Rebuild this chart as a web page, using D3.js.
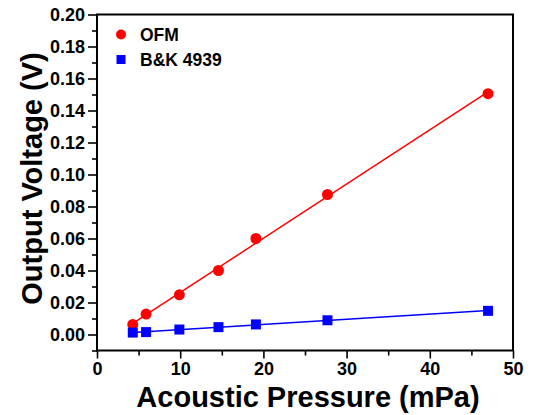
<!DOCTYPE html>
<html>
<head>
<meta charset="utf-8">
<script src="https://cdn.jsdelivr.net/npm/d3@7"></script>
<style>
  body { margin: 0; background: #fff; }
  text { font-family: 'Liberation Sans', Arial, sans-serif; font-weight: bold; }
</style>
</head>
<body>
<div id="chart"></div>
<script>
// data
const pressure = [4.3, 5.9, 9.9, 14.6, 19.1, 27.7, 47.0]
const ofm = [0.0063, 0.0128, 0.0248, 0.0400, 0.0600, 0.0875, 0.1505]
const bk = [0.0012, 0.0015, 0.0031, 0.0046, 0.0063, 0.0089, 0.0148]
const xTicks = [0, 10, 20, 30, 40, 50]
const yTicks = [0, 0.02, 0.04, 0.06, 0.08, 0.10, 0.12, 0.14, 0.16, 0.18, 0.20]

const width = 534
const height = 415
const margin = { top: 14.5, right: 21, bottom: 64.5, left: 97 }
const w = width - margin.left - margin.right
const h = height - margin.top - margin.bottom

const svg = d3
  .select('#chart')
  .append('svg')
  .attr('width', width)
  .attr('height', height)

const g = svg.append('g').attr('transform', `translate(${margin.left},${margin.top})`)

const x = d3.scaleLinear().domain([0, 50]).range([0, w])
const y = d3.scaleLinear().domain([-0.01, 0.2]).range([h, 0])

// minor ticks
g.append('g')
  .attr('transform', `translate(0,${h})`)
  .call(d3.axisBottom(x).tickValues(d3.range(5, 50, 10)).tickSize(5).tickFormat(''))
  .call((a) => a.select('.domain').remove())
  .call((a) => a.selectAll('line').attr('stroke-width', 1.6))
g.append('g')
  .call(d3.axisLeft(y).tickValues(d3.range(-0.01, 0.2, 0.02)).tickSize(5).tickFormat(''))
  .call((a) => a.select('.domain').remove())
  .call((a) => a.selectAll('line').attr('stroke-width', 1.6))

// X
g.append('g')
  .attr('transform', `translate(0,${h})`)
  .call(d3.axisBottom(x).tickValues(xTicks).tickSize(8).tickPadding(4))
  .call((a) => a.select('.domain').remove())
  .call((a) => a.selectAll('line').attr('stroke-width', 1.6))
  .selectAll('text')
  .style('font-size', '18px')
  .attr('fill', '#000')

// Y
g.append('g')
  .call(d3.axisLeft(y).tickValues(yTicks).tickSize(9).tickPadding(3).tickFormat(d3.format('.2f')))
  .call((a) => a.select('.domain').remove())
  .call((a) => a.selectAll('line').attr('stroke-width', 1.6))
  .selectAll('text')
  .style('font-size', '18px')
  .attr('fill', '#000')

// frame
g.append('rect')
  .attr('width', w)
  .attr('height', h)
  .attr('fill', 'none')
  .attr('stroke', '#000')
  .attr('stroke-width', 2)

// least squares line through each series
const fit = (xs, ys) => {
  const mx = d3.mean(xs)
  const my = d3.mean(ys)
  const b = d3.sum(xs, (v, i) => (v - mx) * (ys[i] - my)) / d3.sum(xs, (v) => (v - mx) ** 2)
  const a = my - b * mx
  const ext = d3.extent(xs)
  return ext.map((v) => ({ x: v, y: a + b * v }))
}

const line = d3
  .line()
  .x((d) => x(d.x))
  .y((d) => y(d.y))

const series = [
  { name: 'OFM', values: ofm, color: '#ff0000', shape: 'circle' },
  { name: 'B&K 4939', values: bk, color: '#0000ff', shape: 'square' },
]

series.forEach((s) => {
  g.append('path')
    .datum(fit(pressure, s.values))
    .attr('d', line)
    .attr('fill', 'none')
    .attr('stroke', s.color)
    .attr('stroke-width', 1.5)

  const pts = pressure.map((v, i) => ({ x: v, y: s.values[i] }))
  if (s.shape === 'circle') {
    g.selectAll(null)
      .data(pts)
      .enter()
      .append('circle')
      .attr('cx', (d) => x(d.x))
      .attr('cy', (d) => y(d.y))
      .attr('r', 5.5)
      .attr('fill', s.color)
  } else {
    g.selectAll(null)
      .data(pts)
      .enter()
      .append('rect')
      .attr('x', (d) => x(d.x) - 5)
      .attr('y', (d) => y(d.y) - 5)
      .attr('width', 10)
      .attr('height', 10)
      .attr('fill', s.color)
  }
})

// legend
const legend = svg.append('g')
series.forEach((s, i) => {
  const cy = 34.5 + i * 25
  if (s.shape === 'circle') {
    legend.append('circle').attr('cx', 121).attr('cy', cy).attr('r', 5).attr('fill', s.color)
  } else {
    legend.append('rect').attr('x', 116.5).attr('y', cy - 4.5).attr('width', 9).attr('height', 9).attr('fill', s.color)
  }
  legend.append('text')
    .attr('x', 140)
    .attr('y', cy + 6)
    .style('font-size', '17.5px')
    .text(s.name)
})

// axis titles
svg.append('text')
  .attr('x', margin.left + w / 2 + 3)
  .attr('y', 407)
  .attr('text-anchor', 'middle')
  .style('font-size', '29px')
  .text('Acoustic Pressure (mPa)')

svg.append('text')
  .attr('transform', `translate(42,${margin.top + h / 2 - 4}) rotate(-90)`)
  .attr('text-anchor', 'middle')
  .style('font-size', '29px')
  .text('Output Voltage (V)')
</script>
</body>
</html>
